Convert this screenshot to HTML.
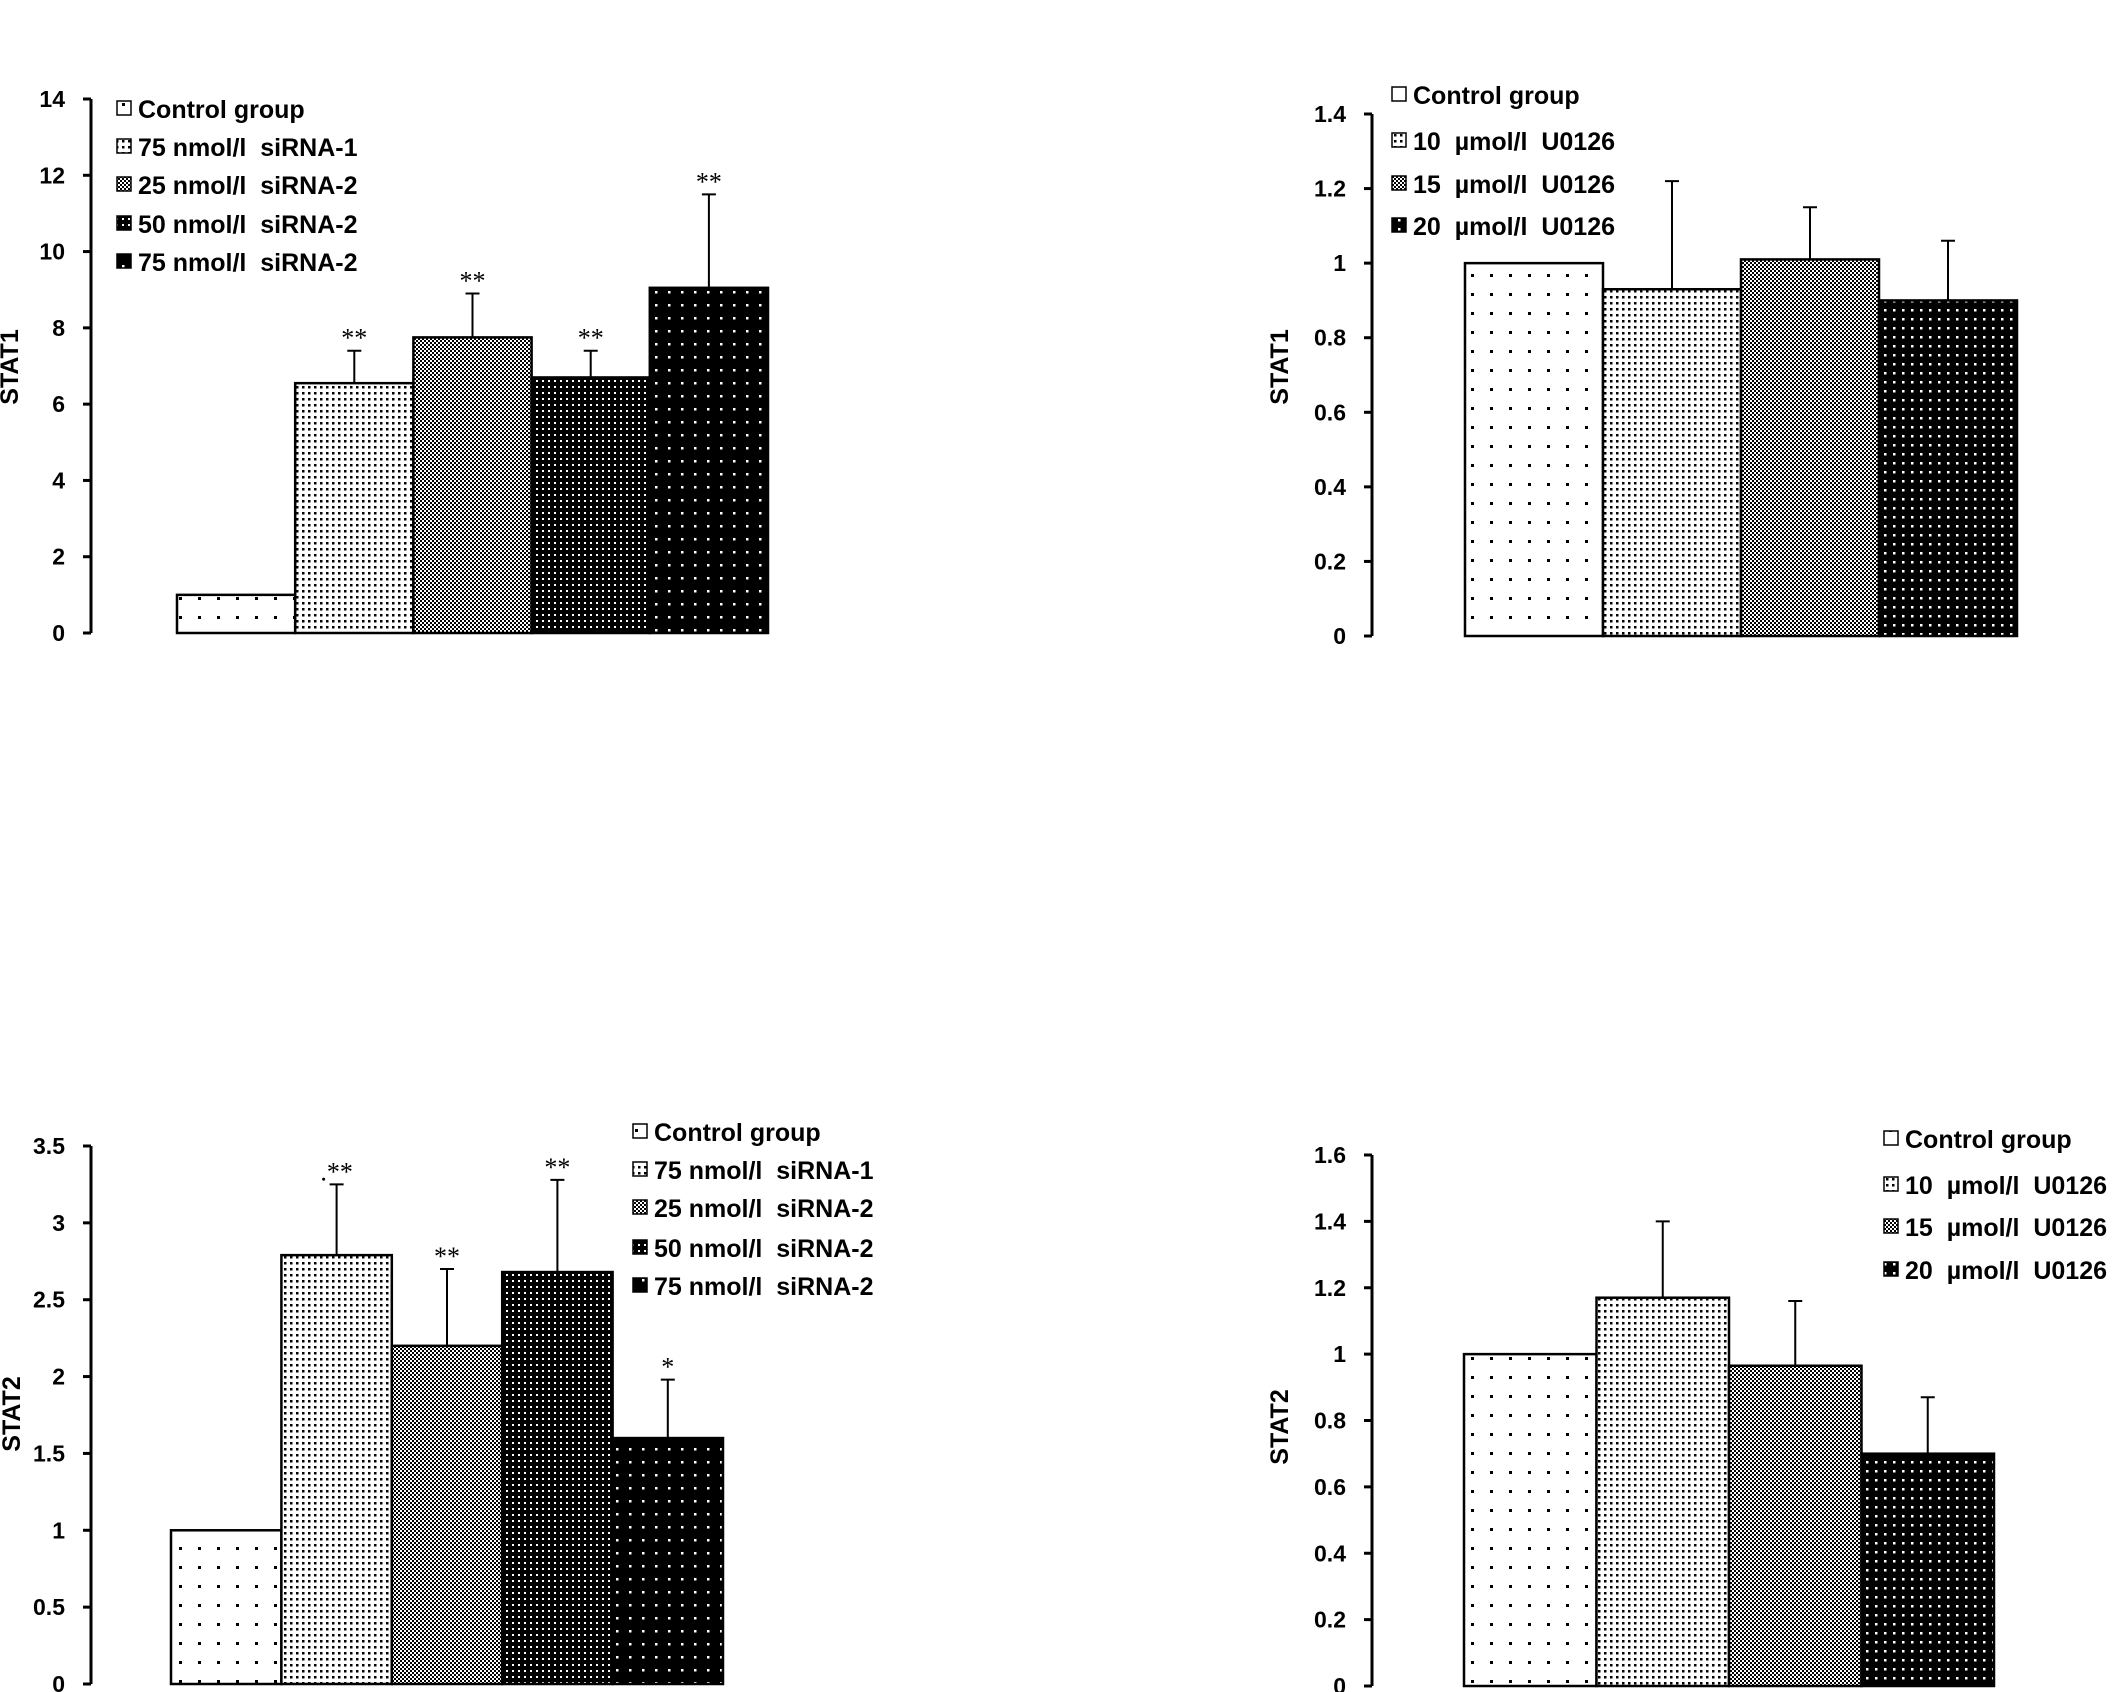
<!DOCTYPE html>
<html><head><meta charset="utf-8"><style>
html,body{margin:0;padding:0;background:#fff}
svg{display:block}
text{font-family:"Liberation Sans",sans-serif;font-weight:bold;fill:#000}
.star{font-family:"Liberation Serif",serif;font-weight:normal;font-size:26px}
</style></head><body>
<svg id="chart" width="2126" height="1692" viewBox="0 0 2126 1692" xmlns="http://www.w3.org/2000/svg">
<defs>
<pattern id="pSparse" width="19" height="19" patternUnits="userSpaceOnUse"><rect width="19" height="19" fill="#fff"/><rect x="8" y="8" width="3" height="3" fill="#000"/></pattern>
<pattern id="pDense" width="6" height="6" patternUnits="userSpaceOnUse"><rect width="6" height="6" fill="#fff"/><rect x="2" y="2" width="2.5" height="2.5" fill="#000"/></pattern>
<pattern id="pCheck" width="4" height="4" patternUnits="userSpaceOnUse"><rect width="4" height="4" fill="#fff"/><rect width="2" height="2" fill="#000"/><rect x="2" y="2" width="2" height="2" fill="#000"/></pattern>
<pattern id="pDark" width="6" height="6" patternUnits="userSpaceOnUse"><rect width="6" height="6" fill="#000"/><rect x="2" y="2" width="2" height="2" fill="#fff"/></pattern>
<pattern id="pBlack" width="13" height="13" patternUnits="userSpaceOnUse"><rect width="13" height="13" fill="#000"/><rect x="5" y="5" width="2.5" height="2.5" fill="#fff"/></pattern>
<pattern id="pBlack2" width="9" height="9" patternUnits="userSpaceOnUse"><rect width="9" height="9" fill="#000"/><rect x="3" y="3" width="2.5" height="2.5" fill="#fff"/></pattern>
</defs>
</svg>
<script>
// ---- data ----
const tlCategories = ["Control group","75 nmol/l  siRNA-1","25 nmol/l  siRNA-2","50 nmol/l  siRNA-2","75 nmol/l  siRNA-2"];
const tlValues = [1, 6.55, 7.75, 6.7, 9.05];
const tlErrors = [null, 7.4, 8.9, 7.4, 11.5];
const tlStars = ["", "**", "**", "**", "**"];
const tlTicks = [0,2,4,6,8,10,12,14];

const trCategories = ["Control group","10  \u00b5mol/l  U0126","15  \u00b5mol/l  U0126","20  \u00b5mol/l  U0126"];
const trValues = [1, 0.93, 1.01, 0.9];
const trErrors = [null, 1.22, 1.15, 1.06];
const trStars = ["", "", "", ""];
const trTicks = [0,0.2,0.4,0.6,0.8,1,1.2,1.4];

const blCategories = ["Control group","75 nmol/l  siRNA-1","25 nmol/l  siRNA-2","50 nmol/l  siRNA-2","75 nmol/l  siRNA-2"];
const blValues = [1, 2.79, 2.2, 2.68, 1.6];
const blErrors = [null, 3.25, 2.7, 3.28, 1.98];
const blStars = ["", ".**", "**", "**", "*"];
const blTicks = [0,0.5,1,1.5,2,2.5,3,3.5];

const brCategories = ["Control group","10  \u00b5mol/l  U0126","15  \u00b5mol/l  U0126","20  \u00b5mol/l  U0126"];
const brValues = [1, 1.17, 0.965, 0.7];
const brErrors = [null, 1.4, 1.16, 0.87];
const brStars = ["", "", "", ""];
const brTicks = [0,0.2,0.4,0.6,0.8,1,1.2,1.4,1.6];

const svg = document.getElementById('chart');
const NS = 'http://www.w3.org/2000/svg';
function mk(tag, attrs, parent){
  const e = document.createElementNS(NS, tag);
  for (const k in attrs) e.setAttribute(k, attrs[k]);
  (parent||svg).appendChild(e); return e;
}
function panel(cfg){
  const g = mk('g', {});
  
  
  const max = cfg.ticks[cfg.ticks.length-1];
  const y = v => cfg.y0 - (v/max)*(cfg.y0 - cfg.yTop);
  const bw = (cfg.xEnd - cfg.xStart)/cfg.values.length;
  const x = i => cfg.xStart + i*bw;
  const ax = mk('line', {x1:cfg.axX, y1:cfg.yTop, x2:cfg.axX, y2:cfg.y0, stroke:'#000','stroke-width':3}, g);
  
  
  cfg.ticks.forEach(t => {
    mk('line', {x1:cfg.axX-8, y1:y(t), x2:cfg.axX, y2:y(t), stroke:'#000','stroke-width':3}, g);
    const tl = mk('text', {x:cfg.axX-26, y:y(t)+8, 'text-anchor':'end','font-size':23}, g);
    tl.textContent = String(t);
    
    
  });
  const yt = mk('text', {x:0, y:0, 'text-anchor':'middle','font-size':25, transform:`translate(${cfg.titleX},${cfg.titleY}) rotate(-90)`}, g);
  yt.textContent = cfg.title;
  
  
  cfg.values.forEach((v,i) => {
    const r = mk('rect', {x:x(i), y:y(v), width:bw, height:cfg.y0-y(v), fill:`url(#${cfg.pats[i]})`, stroke:'#000','stroke-width':2.5}, g);
    
    
    const e = cfg.errors[i];
    const cx = x(i)+bw/2;
    if (e !== null) {
      const el = mk('path', {d:`M${cx},${y(v)}V${y(e)}M${cx-7},${y(e)}H${cx+7}`, stroke:'#000','stroke-width':2, fill:'none'}, g);
      
      
    }
    if (cfg.stars[i]) {
      const st = mk('text', {x:cx, y:(e!==null?y(e):y(v))-4, 'text-anchor':'middle', class:'star'}, g);
      st.textContent = cfg.stars[i];
      
      
    }
  });
  cfg.categories.forEach((c,i) => {
    const ly = cfg.legY[i];
    const sw = mk('rect', {x:cfg.legX, y:ly-8, width:14, height:14, fill:`url(#${cfg.legPats[i]})`, stroke:'#000','stroke-width':1.5}, g);
    
    
    const lt = mk('text', {x:cfg.legX+21, y:ly+9, 'font-size':25, 'xml:space':'preserve'}, g);
    lt.textContent = c;
    lt.style.whiteSpace = 'pre';
    
    
  });
}
panel({name:'stat1-sirna-chart', categories:tlCategories, values:tlValues, errors:tlErrors, stars:tlStars, ticks:tlTicks,
  axX:91, y0:633, yTop:99, xStart:177, xEnd:768, title:'STAT1', titleX:18, titleY:367,
  pats:['pSparse','pDense','pCheck','pDark','pBlack'], legPats:['pSparse','pDense','pCheck','pDark','pBlack'],
  legX:117, legY:[109,147,185,224,262]});
panel({name:'stat1-u0126-chart', categories:trCategories, values:trValues, errors:trErrors, stars:trStars, ticks:trTicks,
  axX:1372, y0:636, yTop:114, xStart:1465, xEnd:2017, title:'STAT1', titleX:1288, titleY:367,
  pats:['pSparse','pDense','pCheck','pBlack2'], legPats:['pSparse','pDense','pCheck','pBlack2'],
  legX:1392, legY:[95,141,184,226]});
panel({name:'stat2-sirna-chart', categories:blCategories, values:blValues, errors:blErrors, stars:blStars, ticks:blTicks,
  axX:91, y0:1684, yTop:1146, xStart:171, xEnd:723, title:'STAT2', titleX:20, titleY:1414,
  pats:['pSparse','pDense','pCheck','pDark','pBlack'], legPats:['pSparse','pDense','pCheck','pDark','pBlack'],
  legX:633, legY:[1132,1170,1208,1248,1286]});
panel({name:'stat2-u0126-chart', categories:brCategories, values:brValues, errors:brErrors, stars:brStars, ticks:brTicks,
  axX:1372, y0:1686, yTop:1155, xStart:1464, xEnd:1994, title:'STAT2', titleX:1288, titleY:1427,
  pats:['pSparse','pDense','pCheck','pBlack2'], legPats:['pSparse','pDense','pCheck','pBlack2'],
  legX:1884, legY:[1139,1185,1227,1270]});
</script>
</body></html>
